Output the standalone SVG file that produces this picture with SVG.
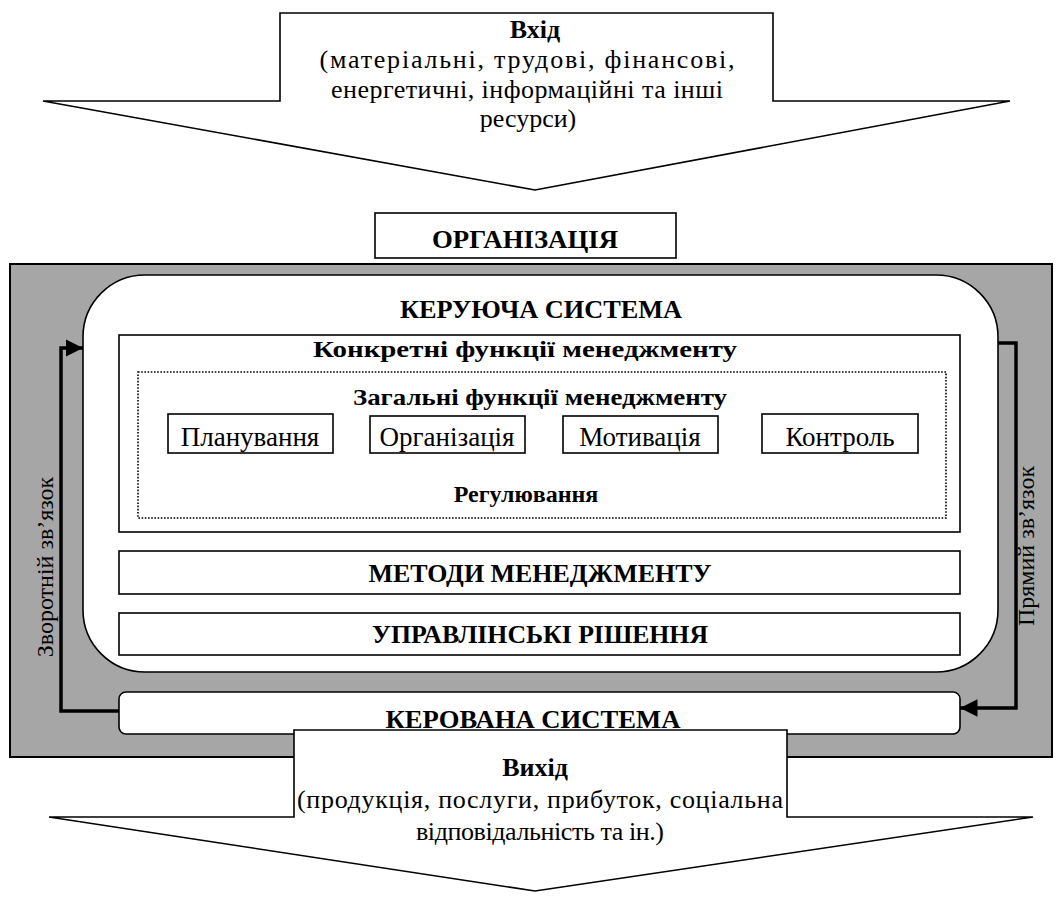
<svg xmlns="http://www.w3.org/2000/svg" width="1062" height="899" viewBox="0 0 1062 899">
<defs>
<style>
.ln{fill:#fff;stroke:#000;stroke-width:1.6}
.t{font-family:"Liberation Serif","Times New Roman",serif;fill:#000;text-anchor:middle}
.r{font-size:24px}
.io{font-size:26px}
.b{font-size:25px;font-weight:bold}
.bs{font-size:24px;font-weight:bold}
.bi{font-size:26px;font-weight:bold}
.bx{font-size:27px}
.con{fill:none;stroke:#000;stroke-width:3.5}
</style>
<marker id="ah" viewBox="0 0 10 10" refX="10" refY="5" markerWidth="5" markerHeight="5" markerUnits="strokeWidth" orient="auto">
<path d="M0,0 L10,5 L0,10 z" fill="#000"/>
</marker>
</defs>

<g id="input">
<polygon class="ln" points="280,13 773,13 773,101 1010,101 535,190 43,101 280,101"/>
<text class="t bi" x="535" y="38">Вхід</text>
<text class="t io" x="527" y="68" textLength="415">(матеріальні, трудові, фінансові,</text>
<text class="t io" x="527" y="98" textLength="392">енергетичні, інформаційні та інші</text>
<text class="t io" x="528" y="127">ресурси)</text>
</g>

<g id="organization">
<rect class="ln" x="375" y="213" width="301" height="45"/>
<text class="t b" x="525" y="248" textLength="186" lengthAdjust="spacingAndGlyphs">ОРГАНІЗАЦІЯ</text>
</g>

<g id="panel">
<rect x="10" y="264" width="1042" height="493" fill="#a6a6a6" stroke="#000" stroke-width="2"/>
</g>

<g id="control-system">
<rect class="ln" x="83" y="275" width="915" height="397" rx="62" ry="62"/>
<text class="t b" x="541" y="318" textLength="282" lengthAdjust="spacingAndGlyphs">КЕРУЮЧА СИСТЕМА</text>
</g>

<g id="specific-functions">
<rect class="ln" x="119" y="335" width="841" height="197"/>
<text class="t bs" x="525" y="357" textLength="424" lengthAdjust="spacingAndGlyphs">Конкретні функції менеджменту</text>
</g>

<g id="general-functions">
<rect x="138" y="372" width="808" height="146" fill="none" stroke="#000" stroke-width="1.6" stroke-dasharray="1.6,1.6"/>
<text class="t bs" x="540" y="405" textLength="374" lengthAdjust="spacingAndGlyphs">Загальні функції менеджменту</text>
<text class="t bs" x="526" y="502">Регулювання</text>
</g>

<g id="planning">
<rect class="ln" x="168" y="414" width="165" height="39"/>
<text class="t bx" x="250" y="446">Планування</text>
</g>
<g id="organizing">
<rect class="ln" x="370" y="416" width="155" height="37"/>
<text class="t bx" x="447" y="446">Організація</text>
</g>
<g id="motivation">
<rect class="ln" x="563" y="416" width="155" height="37"/>
<text class="t bx" x="640" y="446">Мотивація</text>
</g>
<g id="control">
<rect class="ln" x="762" y="414" width="156" height="39"/>
<text class="t bx" x="840" y="446">Контроль</text>
</g>

<g id="methods">
<rect class="ln" x="119" y="551" width="841" height="43"/>
<text class="t b" x="540" y="582" textLength="343" lengthAdjust="spacingAndGlyphs">МЕТОДИ  МЕНЕДЖМЕНТУ</text>
</g>

<g id="decisions">
<rect class="ln" x="119" y="613" width="841" height="42"/>
<text class="t b" x="540" y="643" textLength="336" lengthAdjust="spacingAndGlyphs">УПРАВЛІНСЬКІ РІШЕННЯ</text>
</g>

<g id="managed-system">
<rect class="ln" x="119" y="692" width="841" height="42" rx="7" ry="7"/>
<text class="t b" x="533" y="728" textLength="295" lengthAdjust="spacingAndGlyphs">КЕРОВАНА СИСТЕМА</text>
</g>

<g id="connectors">
<polyline class="con" points="119,711 61,711 61,348 83,348" marker-end="url(#ah)"/>
<polyline class="con" points="998,343 1016,343 1016,708 960,708" marker-end="url(#ah)"/>
<text class="t r" transform="translate(53,567) rotate(-90)">Зворотній зв’язок</text>
<text class="t r" transform="translate(1034,546) rotate(-90)">Прямий зв’язок</text>
</g>

<g id="output">
<polygon class="ln" points="294,730 787,730 787,817 1033,817 535,891 49,817 294,817"/>
<text class="t bi" x="535" y="776">Вихід</text>
<text class="t io" x="540" y="808" textLength="486">(продукція, послуги, прибуток, соціальна</text>
<text class="t io" x="540" y="840" textLength="248">відповідальність та ін.)</text>
</g>
</svg>
